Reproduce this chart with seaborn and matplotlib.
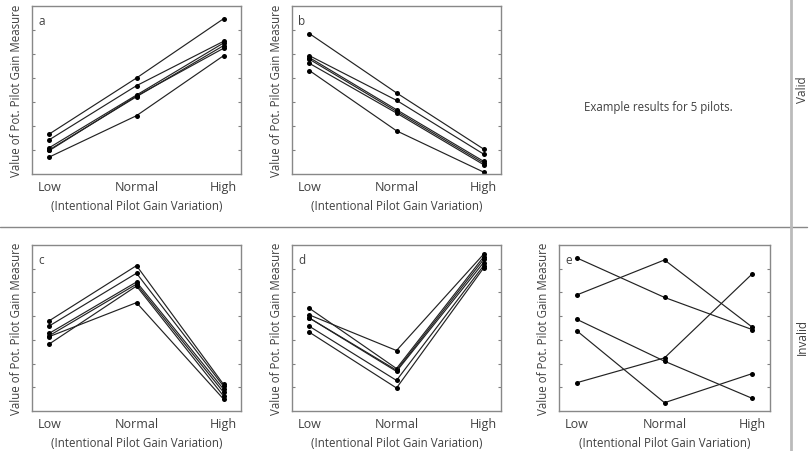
import matplotlib
matplotlib.use("Agg")
import matplotlib.pyplot as plt
import pandas as pd
import seaborn as sns

levels = ["Low", "Normal", "High"]

# one row per pilot: values at Low / Normal / High
panel_a = [[1.67, 4.00, 6.47],
           [1.43, 3.68, 5.53],
           [1.10, 3.29, 5.46],
           [1.01, 3.22, 5.35],
           [0.98, 3.25, 5.24],
           [0.71, 2.43, 4.93]]
panel_b = [[5.85, 3.38, 1.04],
           [4.93, 3.07, 0.83],
           [4.85, 2.68, 0.53],
           [4.78, 2.61, 0.46],
           [4.61, 2.54, 0.39],
           [4.31, 1.80, 0.08]]
panel_c = [[3.81, 6.13, 1.12],
           [3.59, 5.81, 1.04],
           [3.28, 5.44, 0.92],
           [3.14, 4.57, 0.50],
           [3.18, 5.35, 0.79],
           [2.83, 5.27, 0.63]]
panel_d = [[4.05, 2.55, 6.61],
           [4.33, 1.79, 6.50],
           [3.92, 1.72, 6.39],
           [3.92, 1.67, 6.26],
           [3.57, 1.29, 6.13],
           [3.32, 0.97, 6.03]]
panel_e = [[6.46, 4.79, 3.43],
           [4.89, 6.37, 3.53],
           [3.87, 2.10, 0.53],
           [3.39, 0.35, 1.58],
           [1.19, 2.24, 5.79]]

panels = [("a", panel_a), ("b", panel_b), ("c", panel_c), ("d", panel_d), ("e", panel_e)]

sns.set_style("white")
plt.rcParams["font.family"] = ["Open Sans", "DejaVu Sans"]
plt.rcParams["font.size"] = 8
plt.rcParams["text.color"] = "#404040"
plt.rcParams["axes.labelcolor"] = "#404040"
plt.rcParams["xtick.color"] = "#404040"

W, H = 811, 452
fig = plt.figure(figsize=(W / 100, H / 100), dpi=100)

# axes boxes in pixels: left, right, top, bottom
boxes = {"a": (32, 241, 7, 175), "b": (292, 501, 7, 175),
         "c": (32, 241, 246, 412), "d": (292, 501, 246, 412),
         "e": (559, 770, 246, 412)}


def to_long(rows):
    recs = []
    for i, row in enumerate(rows):
        for lev, v in zip(levels, row):
            recs.append({"pilot": i, "level": lev, "value": v})
    return pd.DataFrame(recs)


for name, rows in panels:
    l, r, t, b = boxes[name]
    ax = fig.add_axes([l / W, 1 - b / H, (r - l) / W, (b - t) / H])
    df = to_long(rows)
    sns.lineplot(data=df, x="level", y="value", units="pilot", estimator=None,
                 color="#222222", lw=0.85, marker="o", markersize=3.6,
                 markeredgewidth=0, markerfacecolor="black", ax=ax, sort=False)
    ax.set_xlim(-0.2, 2.2)
    ax.set_ylim(0, 7)
    ax.set_yticks(range(1, 7))
    ax.set_yticklabels([])
    ax.tick_params(axis="y", direction="in", length=2, width=0.8, colors="#808080",
                   left=True, right=True)
    ax.tick_params(axis="x", length=0, pad=4, labelsize=9)
    for sp in ax.spines.values():
        sp.set_color("#888888")
        sp.set_linewidth(1.0)
    ax.set_xlabel("(Intentional Pilot Gain Variation)", fontsize=8.3, labelpad=5)
    ax.set_ylabel("Value of Pot. Pilot Gain Measure", fontsize=8.3, labelpad=3)
    ax.text(0.03, 0.915, name, transform=ax.transAxes, fontsize=8.5, va="center")

fig.text(658 / W, 1 - 107 / H, "Example results for 5 pilots.", fontsize=8.3,
         ha="center", va="center")

# separators
fig.add_artist(plt.Line2D([0, 807 / W], [1 - 228 / H, 1 - 228 / H],
                          color="#888888", lw=1.0))
fig.add_artist(plt.Line2D([791 / W, 791 / W], [0, 1], color="#bbbbbb", lw=2.0))
fig.text(802 / W, 1 - 90 / H, "Valid", rotation=90, fontsize=8.5, ha="center", va="center")
fig.text(802 / W, 1 - 337 / H, "Invalid", rotation=90, fontsize=8.5, ha="center", va="center")

fig.savefig("out.png", dpi=100)
